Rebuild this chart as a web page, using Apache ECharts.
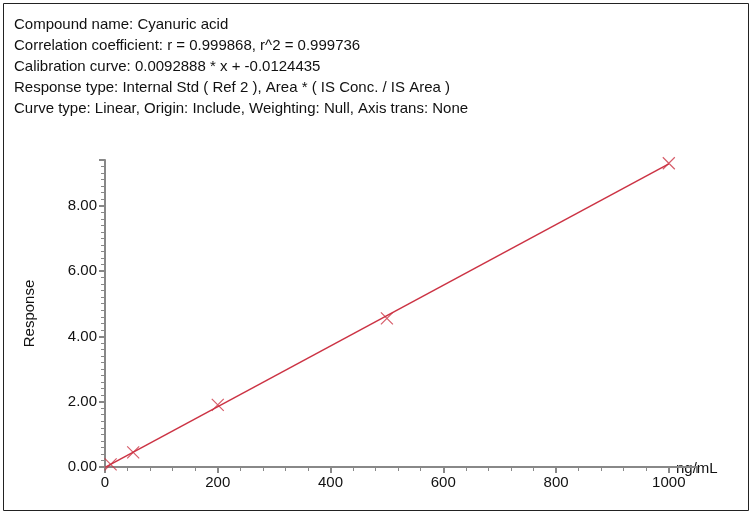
<!DOCTYPE html>
<html>
<head>
<meta charset="utf-8">
<script src="https://cdn.jsdelivr.net/npm/echarts@6/dist/echarts.min.js"></script>
<style>
  html, body { margin: 0; padding: 0; background: #fff; }
  #chart { width: 753px; height: 515px; }
</style>
</head>
<body>
<div id="chart"></div>
<script>
// Header text lines
const headerLines = [
  'Compound name: Cyanuric acid',
  'Correlation coefficient: r = 0.999868, r^2 = 0.999736',
  'Calibration curve: 0.0092888 * x + -0.0124435',
  'Response type: Internal Std ( Ref 2 ), Area * ( IS Conc. / IS Area )',
  'Curve type: Linear, Origin: Include, Weighting: Null, Axis trans: None'
];

// Calibration points (ng/mL, response)
const concentrations = [10, 50, 200, 500, 1000];
const responses = [0.08, 0.45, 1.90, 4.55, 9.30];

// Fitted line endpoints
const lineX = [0, 1000];
const lineY = [-0.01, 9.28];

const chart = echarts.init(document.getElementById('chart'));
const axisGray = '#888888';
const textColor = '#111111';
const font = 'Liberation Sans, Arial, sans-serif';

chart.setOption({
  animation: false,
  textStyle: { fontFamily: font },
  graphic: [
    {
      type: 'rect',
      shape: { x: 3.5, y: 3.5, width: 745, height: 507 },
      style: { fill: 'none', stroke: '#222', lineWidth: 1 }
    },
    ...headerLines.map((t, i) => ({
      type: 'text',
      left: 14,
      top: 17 + i * 21,
      style: { text: t, fill: textColor, fontSize: 15, fontFamily: font }
    })),
    {
      type: 'text',
      left: 676,
      top: 461,
      style: { text: 'ng/mL', fill: textColor, fontSize: 15, fontFamily: font }
    }
  ],
  grid: { left: 105, right: 56, top: 160, bottom: 48 },
  xAxis: {
    type: 'value',
    min: 0,
    max: 1050,
    interval: 200,
    axisLine: { onZero: false, lineStyle: { color: axisGray, width: 2 } },
    axisTick: { show: true, length: 6, lineStyle: { color: axisGray, width: 2 } },
    minorTick: { show: true, splitNumber: 5, length: 4, lineStyle: { color: axisGray } },
    axisLabel: { color: textColor, fontSize: 15, showMaxLabel: false, margin: 8, formatter: v => String(v) },
    splitLine: { show: false }
  },
  yAxis: {
    type: 'value',
    min: 0,
    max: 9.4,
    interval: 2,
    name: 'Response',
    nameLocation: 'middle',
    nameGap: 68,
    nameTextStyle: { color: textColor, fontSize: 15 },
    axisLine: { show: true, onZero: false, lineStyle: { color: axisGray, width: 2 } },
    axisTick: { show: true, length: 6, lineStyle: { color: axisGray, width: 2 } },
    minorTick: { show: true, splitNumber: 10, length: 4, lineStyle: { color: axisGray } },
    axisLabel: { color: textColor, fontSize: 15, showMaxLabel: false, formatter: v => v.toFixed(2) },
    splitLine: { show: false }
  },
  series: [
    {
      type: 'line',
      data: lineX.map((x, i) => [x, lineY[i]]),
      showSymbol: false,
      lineStyle: { color: '#cc3344', width: 1.5 },
      z: 2
    },
    {
      type: 'scatter',
      data: concentrations.map((x, i) => [x, responses[i]]),
      symbol: 'path://M0,0L10,10M10,0L0,10',
      symbolSize: 12,
      itemStyle: { color: 'none', borderColor: '#cc3344', borderWidth: 1.2 },
      z: 3
    }
  ]
});
</script>
</body>
</html>
